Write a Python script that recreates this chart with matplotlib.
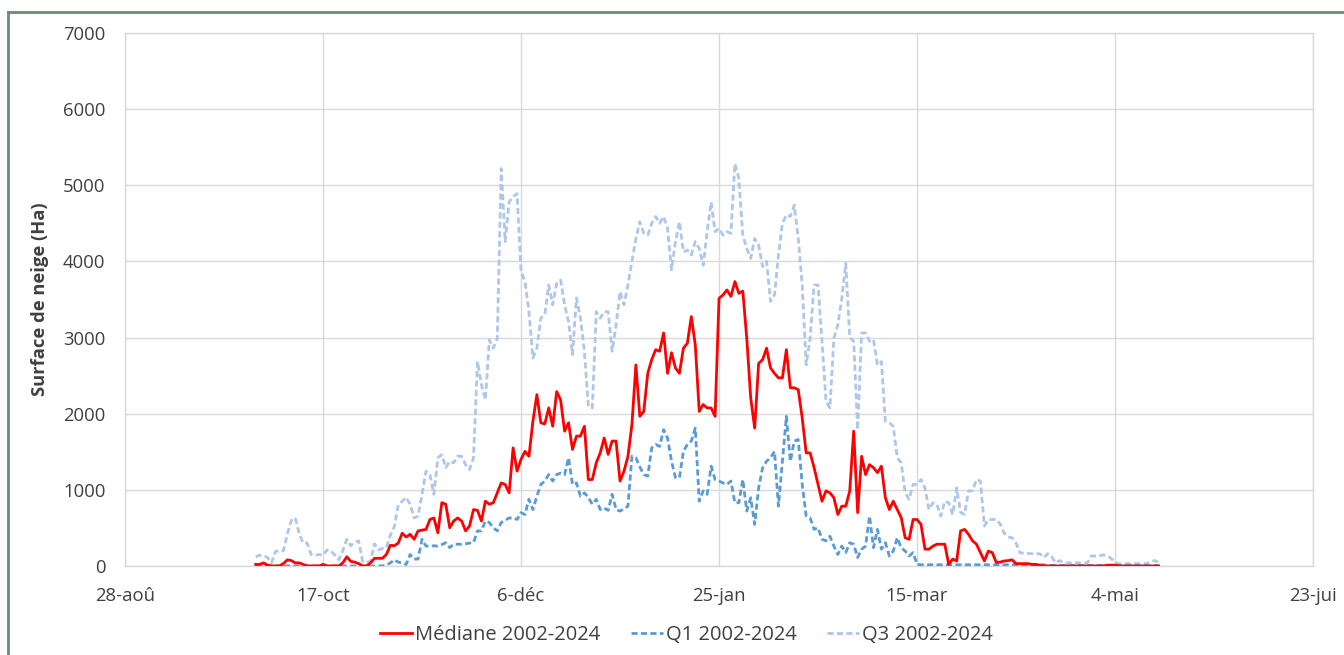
import matplotlib
matplotlib.use("Agg")
import matplotlib.pyplot as plt
import numpy as np

# day offsets from 28-aoû, one value per day from day 33 to day 261
FIRST_DAY = 33

median = [
    20, 20, 40, 10, 0, 0, 0, 30, 80, 70,
    40, 40, 20, 0, 0, 0, 0, 20, 0, 0,
    0, 0, 40, 120, 60, 50, 30, 0, 0, 40,
    100, 100, 100, 150, 270, 265, 300, 430, 380, 415,
    350, 460, 470, 480, 610, 630, 435, 830, 810, 500,
    590, 630, 590, 460, 525, 740, 730, 590, 850, 810,
    830, 960, 1090, 1070, 960, 1550, 1245, 1400, 1505, 1440,
    1900, 2250, 1880, 1865, 2075, 1835, 2290, 2180, 1770, 1880,
    1530, 1705, 1705, 1835, 1135, 1135, 1355, 1485, 1680, 1465,
    1640, 1640, 1115, 1245, 1440, 1855, 2640, 1965, 2030, 2530,
    2710, 2840, 2820, 3060, 2530, 2800, 2600, 2530, 2860, 2925,
    3275, 2905, 2030, 2120, 2075, 2075, 1965, 3515, 3560, 3625,
    3540, 3735, 3580, 3610, 2990, 2205, 1810, 2660, 2710, 2860,
    2600, 2530, 2470, 2470, 2840, 2340, 2340, 2315, 1945, 1485,
    1485, 1290, 1070, 850, 985, 960, 895, 675, 785, 785,
    985, 1770, 700, 1440, 1200, 1330, 1290, 1225, 1310, 895,
    740, 850, 740, 635, 370, 350, 610, 610, 545, 220,
    220, 260, 285, 285, 285, 20, 90, 65, 460, 480,
    415, 330, 285, 175, 65, 195, 175, 45, 50, 65,
    70, 80, 30, 30, 30, 30, 20, 20, 10, 0,
    0, 0, 0, 0, 0, 0, 0, 0, 0, 0,
    0, 0, 0, 0, 0, 10, 10, 10, 0, 0,
    0, 0, 0, 0, 0, 0, 0, 0, 0,
]

q1 = [
    0, 0, 0, 0, 0, 0, 0, 0, 0, 0,
    0, 0, 0, 0, 0, 0, 0, 0, 0, 0,
    0, 0, 0, 0, 0, 0, 0, 0, 0, 0,
    0, 0, 0, 10, 40, 80, 50, 40, 20, 150,
    90, 90, 350, 260, 260, 265, 260, 280, 305, 240,
    285, 285, 285, 290, 300, 305, 460, 460, 590, 570,
    500, 460, 570, 600, 630, 630, 610, 700, 675, 875,
    740, 915, 1070, 1115, 1200, 1115, 1200, 1220, 1200, 1420,
    1070, 1090, 915, 960, 900, 810, 875, 740, 760, 730,
    940, 740, 720, 750, 785, 1440, 1420, 1300, 1200, 1180,
    1550, 1595, 1570, 1790, 1680, 1375, 1160, 1160, 1505, 1595,
    1640, 1810, 850, 985, 940, 1310, 1135, 1115, 1090, 1070,
    1115, 830, 830, 1135, 720, 895, 545, 1025, 1290, 1375,
    1420, 1505, 785, 1375, 1965, 1375, 1640, 1660, 1070, 655,
    630, 480, 500, 350, 330, 390, 260, 150, 260, 175,
    305, 285, 110, 220, 260, 655, 240, 480, 220, 305,
    130, 195, 370, 240, 195, 130, 175, 20, 15, 15,
    15, 15, 15, 15, 15, 15, 15, 15, 15, 15,
    15, 15, 15, 15, 15, 15, 15, 15, 15, 15,
    15, 15, 15, 15, 15, 15, 15, 15, 15, 15,
    5, 5, 5, 5, 5, 5, 5, 5, 5, 5,
    5, 5, 5, 5, 5, 5, 5, 5, 5, 5,
    5, 5, 5, 5, 5, 5, 5, 5, 5,
]

q3 = [
    120, 140, 140, 110, 40, 190, 200, 200, 420, 600,
    630, 420, 300, 300, 150, 140, 150, 140, 210, 200,
    140, 80, 200, 350, 265, 310, 330, 60, 50, 60,
    290, 210, 230, 240, 400, 515, 800, 850, 900, 810,
    630, 655, 940, 1245, 1200, 940, 1420, 1460, 1290, 1375,
    1355, 1440, 1440, 1330, 1265, 1420, 2685, 2380, 2180, 2970,
    2860, 2990, 5220, 4260, 4780, 4850, 4890, 3865, 3735, 3340,
    2730, 2860, 3255, 3300, 3690, 3430, 3710, 3755, 3430, 3210,
    2775, 3520, 3255, 2820, 2095, 2075, 3340, 3255, 3340, 3340,
    2820, 3165, 3600, 3430, 3690, 4000, 4300, 4520, 4370, 4345,
    4500, 4590, 4500, 4590, 4435, 3890, 4260, 4520, 4125, 4150,
    4085, 4260, 4170, 3950, 4390, 4780, 4390, 4435, 4345, 4390,
    4370, 5285, 5090, 4345, 4170, 4040, 4300, 4215, 3930, 4000,
    3475, 3560, 4085, 4500, 4610, 4590, 4740, 4300, 3690, 2640,
    2990, 3690, 3690, 2950, 2160, 2075, 2990, 3165, 3515, 3975,
    3000, 2950, 1790, 3060, 3060, 2950, 2970, 2640, 2685, 1900,
    1880, 1835, 1420, 1355, 960, 875, 1070, 1070, 1135, 1025,
    740, 830, 810, 655, 850, 830, 675, 1025, 700, 675,
    985, 985, 1135, 1115, 525, 610, 610, 610, 550, 430,
    380, 370, 300, 170, 170, 165, 160, 160, 160, 110,
    160, 120, 40, 70, 40, 40, 40, 40, 40, 40,
    40, 130, 130, 130, 145, 130, 100, 40, 30, 30,
    30, 30, 30, 30, 30, 30, 60, 70, 50,
]

tick_days = [0, 50, 100, 150, 200, 250, 300]
tick_labels = ["28-aoû", "17-oct", "6-déc", "25-jan", "15-mar", "4-mai", "23-jui"]

plt.rcParams["font.family"] = ["Open Sans", "DejaVu Sans"]
text_color = "#404040"
grid_color = "#d9d9d9"

days = FIRST_DAY + np.arange(len(median))

fig = plt.figure(figsize=(13.44, 6.55), dpi=100)
ax = fig.add_axes([0.093, 0.136, 0.884, 0.8136])

ax.plot(days, median, color="#ff0000", lw=2.0, label="Médiane 2002-2024", zorder=4)
ax.plot(days, q1, color="#5b9bd5", lw=2.0, ls=(0, (2.2, 1.2)), label="Q1 2002-2024", zorder=3)
ax.plot(days, q3, color="#aec7e8", lw=2.0, ls=(0, (2.2, 1.2)), label="Q3 2002-2024", zorder=2)

ax.set_xlim(0, 300)
ax.set_ylim(0, 7000)
ax.set_xticks(tick_days)
ax.set_xticklabels(tick_labels)
ax.set_yticks(np.arange(0, 7001, 1000))
ax.tick_params(length=0, labelsize=13.3, colors=text_color)
ax.tick_params(axis="x", pad=15)
ax.tick_params(axis="y", pad=14)
ax.grid(True, color=grid_color, lw=1.0)
ax.set_axisbelow(True)
for s in ax.spines.values():
    s.set_color(grid_color)
    s.set_linewidth(1.0)

ax.set_ylabel("Surface de neige (Ha)", fontsize=13.2, fontweight="bold", color=text_color, labelpad=10)

leg = fig.legend(loc="lower center", bbox_to_anchor=(0.511, -0.012), ncol=3, frameon=False,
                 fontsize=14.5, handlelength=1.6, columnspacing=1.5, handletextpad=0.15)
for t in leg.get_texts():
    t.set_color(text_color)

# outer frame (top and left edges visible in the source)
fig.add_artist(plt.Line2D([8 / 1344, 8 / 1344], [0, 1 - 12 / 655], transform=fig.transFigure,
                          color="#6b8a75", lw=2))
fig.add_artist(plt.Line2D([8 / 1344, 1], [1 - 12 / 655, 1 - 12 / 655], transform=fig.transFigure,
                          color="#6b8a75", lw=2))

fig.savefig("out.png", dpi=100)
